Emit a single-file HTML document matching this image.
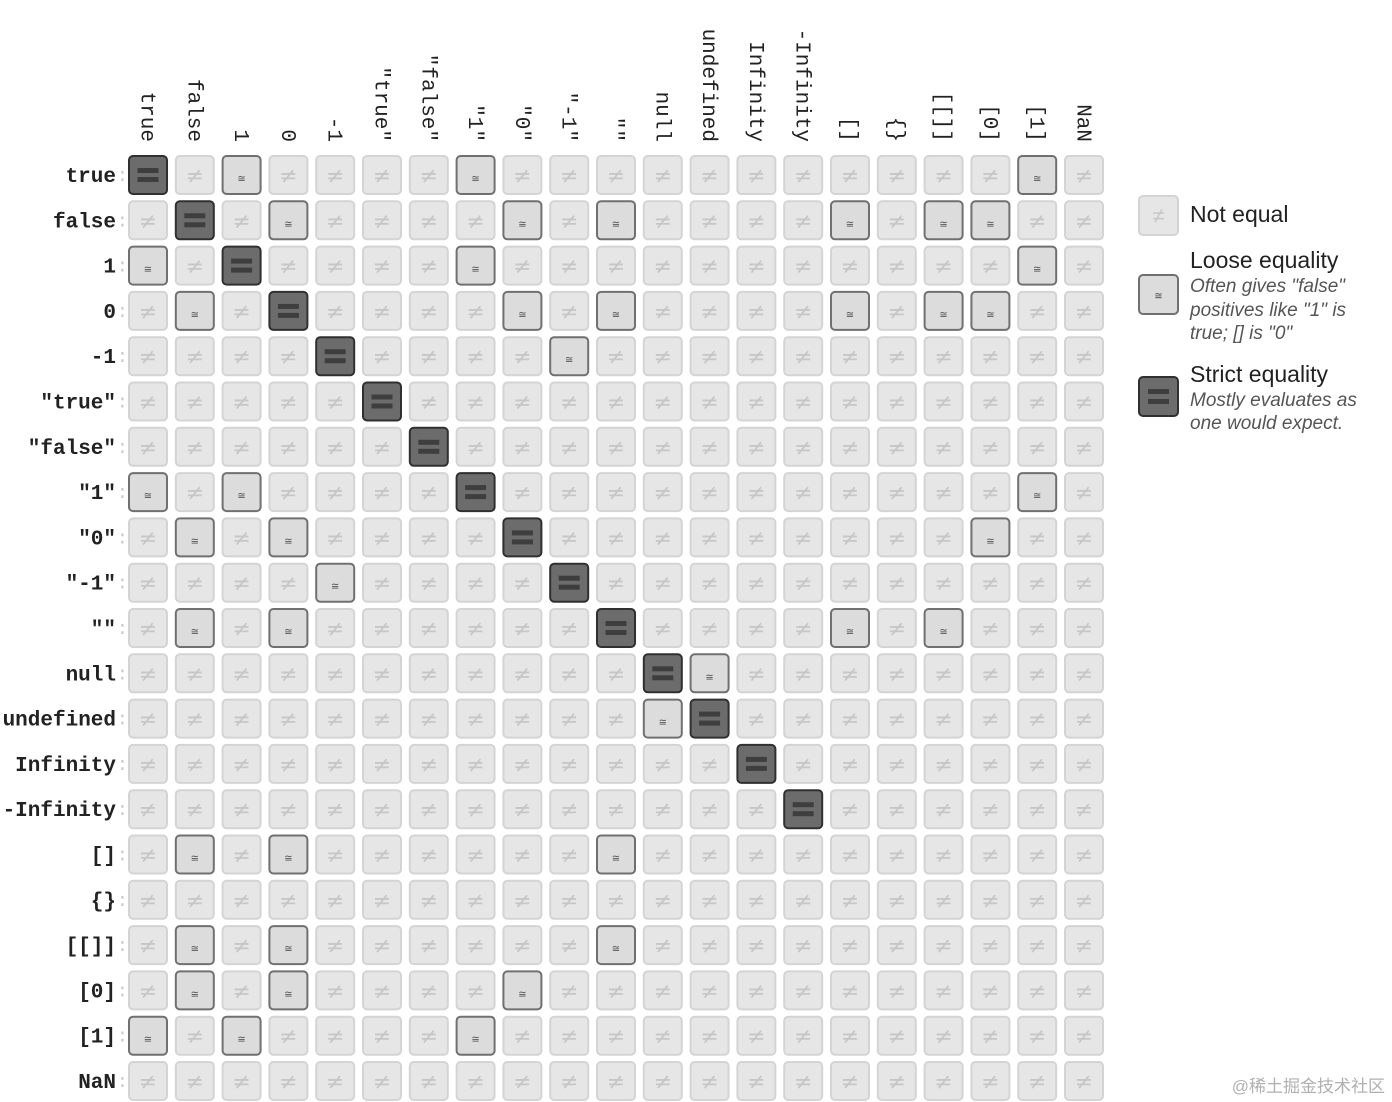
<!DOCTYPE html>
<html><head><meta charset="utf-8"><style>
html,body{margin:0;padding:0;background:#fff;}
svg{display:block;}
</style></head><body>
<svg id="chart" width="1392" height="1102" viewBox="0 0 1392 1102" xmlns="http://www.w3.org/2000/svg">
<g id="cols"></g>
<g id="rows"></g>
<g id="cells"></g>
<g font-family="Liberation Sans, sans-serif">
  <g>
    <rect x="1139" y="196" width="39" height="39" rx="4" fill="#e6e6e6" stroke="#d4d4d4" stroke-width="2"/>
    <text x="1158.5" y="223" text-anchor="middle" font-size="22" fill="#c6c6c6">≠</text>
    <text x="1190" y="222" font-size="23" fill="#222">Not equal</text>
  </g>
  <g>
    <rect x="1139" y="275" width="39" height="39" rx="4" fill="#dcdcdc" stroke="#707070" stroke-width="2"/>
    <text x="1158.5" y="299" text-anchor="middle" font-size="10" fill="#444">≅</text>
    <text x="1190" y="268" font-size="23" fill="#222">Loose equality</text>
    <text x="1190" y="292" font-size="19" font-style="italic" fill="#555">Often gives "false"</text>
    <text x="1190" y="316" font-size="19" font-style="italic" fill="#555">positives like "1" is</text>
    <text x="1190" y="339" font-size="19" font-style="italic" fill="#555">true; [] is "0"</text>
  </g>
  <g>
    <rect x="1139" y="377" width="39" height="39" rx="4" fill="#6c6c6c" stroke="#303030" stroke-width="2"/>
    <rect x="1148" y="389" width="21" height="5" fill="#3e3e3e"/>
    <rect x="1148" y="399" width="21" height="5" fill="#3e3e3e"/>
    <text x="1190" y="382" font-size="23" fill="#222">Strict equality</text>
    <text x="1190" y="406" font-size="19" font-style="italic" fill="#555">Mostly evaluates as</text>
    <text x="1190" y="429" font-size="19" font-style="italic" fill="#555">one would expect.</text>
  </g>
</g>
<text x="1385" y="1092" text-anchor="end" font-size="17" fill="#b0b0b0" font-family="Liberation Sans, Noto Sans CJK SC, sans-serif">@稀土掘金技术社区</text>
</svg>
<script>
const labels = ['true','false','1','0','-1','"true"','"false"','"1"','"0"','"-1"','""','null','undefined','Infinity','-Infinity','[]','{}','[[]]','[0]','[1]','NaN'];
const strictSelf = ['true','false','1','0','-1','"true"','"false"','"1"','"0"','"-1"','""','null','undefined','Infinity','-Infinity'];
const looseRow = ['true','false','1','0','-1','"1"','"0"','"-1"','""','null','undefined','[]','[[]]','[0]','[1]'];
const looseCols = [
 ['1','"1"','[1]'],
 ['0','"0"','""','[]','[[]]','[0]'],
 ['true','"1"','[1]'],
 ['false','"0"','""','[]','[[]]','[0]'],
 ['"-1"'],
 ['true','1','[1]'],
 ['false','0','[0]'],
 ['-1'],
 ['false','0','[]','[[]]'],
 ['undefined'],
 ['null'],
 ['false','0','""'],
 ['false','0','""'],
 ['false','0','"0"'],
 ['true','1','"1"']
];
const NS='http://www.w3.org/2000/svg';
const x0=128, dx=46.8, y0=155, dy=45.3, cs=40;
function xPos(i){return x0+i*dx;}
function yPos(j){return y0+j*dy;}
function mk(tag,attrs,parent){const e=document.createElementNS(NS,tag);for(const k in attrs)e.setAttribute(k,attrs[k]);parent.appendChild(e);return e;}
function kind(r,c){
  if(r===c && strictSelf.indexOf(labels[r])>=0) return 'strict';
  const idx=looseRow.indexOf(labels[r]);
  if(idx>=0 && looseCols[idx].indexOf(labels[c])>=0) return 'loose';
  return 'none';
}
const gc=document.getElementById('cols'), gr=document.getElementById('rows'), gcell=document.getElementById('cells');
labels.forEach((l,i)=>{
  const t=mk('text',{transform:`translate(${xPos(i)+cs/2-2},142) rotate(90)`,'text-anchor':'end','dominant-baseline':'central','font-family':'Liberation Mono, monospace','font-size':'21',fill:'#222'},gc);
  
  
  t.textContent=l;
  const r=mk('text',{x:116,y:yPos(i)+cs/2+7,'text-anchor':'end','font-family':'Liberation Mono, monospace','font-size':'21','font-weight':'bold',fill:'#222'},gr);
  
  
  r.textContent=l;
  const colon=mk('text',{x:117,y:yPos(i)+cs/2+6,'font-family':'Liberation Mono, monospace','font-size':'18',fill:'#c8c8c8'},gr);
  
  
  colon.textContent=':';
});
for(let r=0;r<labels.length;r++){
  for(let c=0;c<labels.length;c++){
    const k=kind(r,c), x=xPos(c), y=yPos(r);
    const g=mk('g',{},gcell);
    
    
    if(k==='strict'){
      mk('rect',{x:x+1,y:y+1,width:cs-2,height:cs-2,rx:4,fill:'#6c6c6c',stroke:'#303030','stroke-width':2},g);
      mk('rect',{x:x+9.5,y:y+13,width:21,height:5,fill:'#3e3e3e'},g);
      mk('rect',{x:x+9.5,y:y+22,width:21,height:5,fill:'#3e3e3e'},g);
    } else if(k==='loose'){
      mk('rect',{x:x+1,y:y+1,width:cs-2,height:cs-2,rx:4,fill:'#dcdcdc',stroke:'#707070','stroke-width':2},g);
      const t=mk('text',{x:x+cs/2,y:y+27,'text-anchor':'middle','font-size':'10',fill:'#444','font-family':'DejaVu Sans, sans-serif'},g);
      t.textContent='≅';
    } else {
      mk('rect',{x:x+1,y:y+1,width:cs-2,height:cs-2,rx:4,fill:'#e6e6e6',stroke:'#d4d4d4','stroke-width':2},g);
      const t=mk('text',{x:x+cs/2,y:y+28,'text-anchor':'middle','font-size':'22',fill:'#c6c6c6','font-family':'DejaVu Sans, sans-serif'},g);
      t.textContent='≠';
    }
  }
}
</script>
</body></html>
